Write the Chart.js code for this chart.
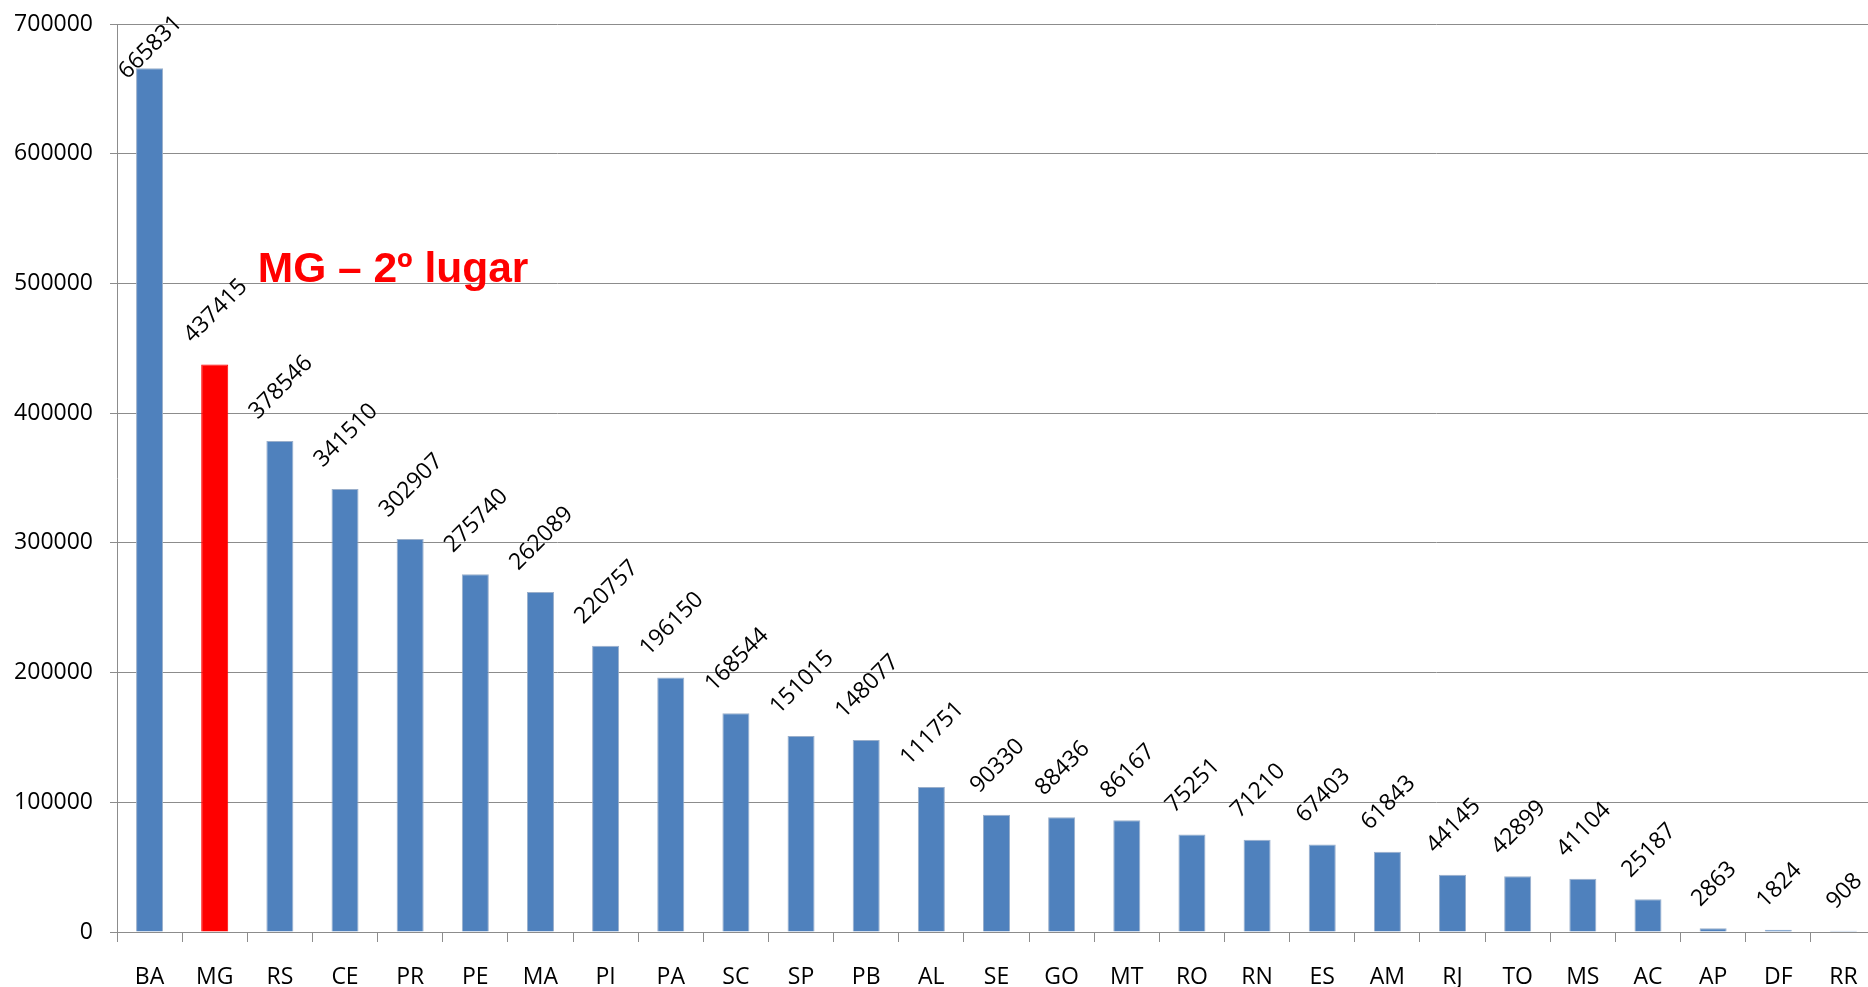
<!DOCTYPE html>
<html>
<head>
<meta charset="utf-8">
<script src="https://cdn.jsdelivr.net/npm/chart.js@4.4.1/dist/chart.umd.min.js"></script>
<style>
  html, body { margin: 0; padding: 0; background: #ffffff; overflow: hidden; }
  #wrap { width: 1868px; height: 987px; overflow: hidden; position: relative; }
  canvas { display: block; }
</style>
</head>
<body>
<div id="wrap"><canvas id="c" width="1876" height="987"></canvas></div>
<script>
const categories = ['BA','MG','RS','CE','PR','PE','MA','PI','PA','SC','SP','PB','AL','SE','GO','MT','RO','RN','ES','AM','RJ','TO','MS','AC','AP','DF','RR'];
const values = [665831, 437415, 378546, 341510, 302907, 275740, 262089, 220757, 196150, 168544, 151015, 148077, 111751, 90330, 88436, 86167, 75251, 71210, 67403, 61843, 44145, 42899, 41104, 25187, 2863, 1824, 908];
const highlightCategory = 'MG';
const yTicks = [0, 100000, 200000, 300000, 400000, 500000, 600000, 700000];
const annotationText = 'MG \u2013 2\u00ba lugar';

const BLUE = '#4F81BD';
const BLUE_EDGE = '#9AAFCB';
const RED = '#FF0000';
const GRID = '#8C8C8C';

const barColors = categories.map(c => c === highlightCategory ? RED : BLUE);
const barEdges = categories.map(c => c === highlightCategory ? RED : BLUE_EDGE);

const barLabelPlugin = {
  id: 'barLabels',
  afterDatasetsDraw(chart) {
    const ctx = chart.ctx;
    const meta = chart.getDatasetMeta(0);
    ctx.save();
    ctx.font = '23px "Open Sans"';
    ctx.fillStyle = '#000000';
    ctx.textAlign = 'center';
    ctx.textBaseline = 'alphabetic';
    const capH = 16;
    const gap = 21;
    meta.data.forEach((bar, i) => {
      const txt = String(values[i]);
      const w = ctx.measureText(txt).width;
      const half = (w / 2 + capH / 2) * Math.SQRT1_2;
      let cy = bar.y - half - gap;
      cy = Math.max(cy, half + 13);
      ctx.save();
      ctx.translate(bar.x, cy);
      ctx.rotate(-Math.PI / 4);
      ctx.fillText(txt, 0, capH / 2);
      ctx.restore();
    });
    ctx.restore();
  }
};

const annotationPlugin = {
  id: 'mgAnnotation',
  afterDatasetsDraw(chart) {
    const ctx = chart.ctx;
    const xs = chart.scales.x, ys = chart.scales.y;
    const idx = categories.indexOf(highlightCategory);
    ctx.save();
    ctx.font = 'bold 42.5px "Liberation Sans", Arial, sans-serif';
    ctx.fillStyle = RED;
    ctx.textAlign = 'left';
    ctx.textBaseline = 'alphabetic';
    ctx.fillText(annotationText, xs.getPixelForValue(idx) + 43, ys.getPixelForValue(500000) - 1);
    ctx.restore();
  }
};

new Chart(document.getElementById('c'), {
  type: 'bar',
  data: {
    labels: categories,
    datasets: [{
      data: values,
      backgroundColor: barColors,
      borderColor: barEdges,
      borderWidth: 1,
      barPercentage: 0.415,
      categoryPercentage: 1.0
    }]
  },
  options: {
    responsive: false,
    animation: false,
    devicePixelRatio: 1,
    layout: { padding: { top: 24, right: 0, bottom: 0, left: 0 } },
    plugins: {
      legend: { display: false },
      tooltip: { enabled: false },
      title: { display: false }
    },
    scales: {
      x: {
        offset: true,
        afterFit(scale) {
          scale.height = 55;
          scale.paddingLeft = 0; scale.paddingRight = 0;
        },
        grid: {
          offset: true,
          drawOnChartArea: false,
          drawTicks: true,
          tickLength: 10,
          color: GRID,
          lineWidth: 1
        },
        border: { display: true, color: GRID, width: 1 },
        ticks: {
          color: '#000000',
          font: { family: '"Open Sans"', size: 23, lineHeight: 1 },
          padding: 24,
          maxRotation: 0,
          autoSkip: false
        }
      },
      y: {
        min: 0,
        max: 700000,
        afterFit(scale) {
          scale.width = 117;
          scale.paddingTop = 0; scale.paddingBottom = 0;
        },
        afterBuildTicks(scale) { scale.ticks = yTicks.map(v => ({ value: v })); },
        grid: {
          color: GRID,
          lineWidth: 1,
          tickLength: 7,
          drawTicks: true
        },
        border: { display: true, color: GRID, width: 1 },
        ticks: {
          color: '#000000',
          font: { family: '"Open Sans"', size: 23 },
          padding: 17,
          callback: v => String(v)
        }
      }
    }
  },
  plugins: [barLabelPlugin, annotationPlugin]
});
</script>
</body>
</html>
